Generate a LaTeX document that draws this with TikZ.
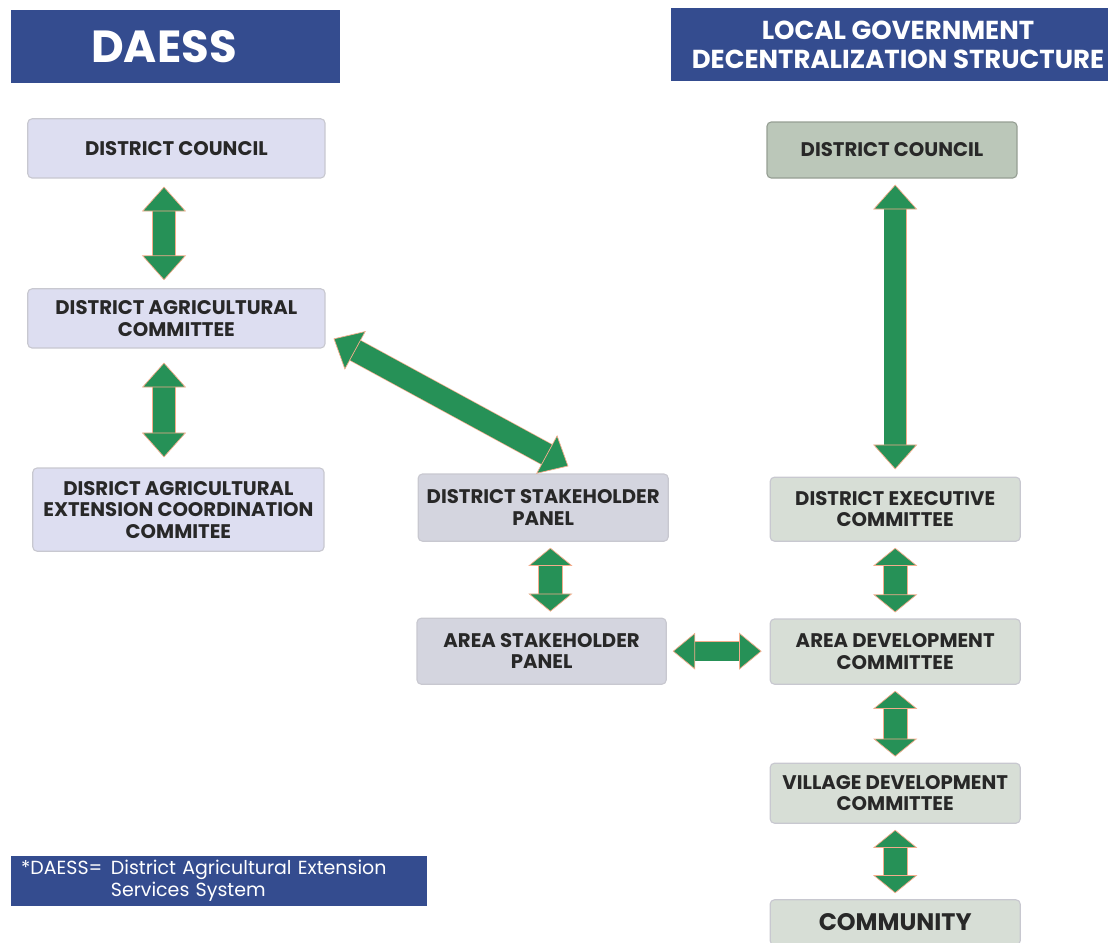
\documentclass[tikz,border=0pt]{standalone}
\usepackage{fontspec}
\setmainfont{Poppins}
\usetikzlibrary{arrows.meta}
\definecolor{hdblue}{RGB}{52,76,143}
\definecolor{daess}{RGB}{221,222,241}
\definecolor{panel}{RGB}{212,213,223}
\definecolor{lgdark}{RGB}{187,199,185}
\definecolor{lglight}{RGB}{215,222,214}
\definecolor{boxline}{RGB}{200,200,208}
\definecolor{txt}{RGB}{40,40,40}
\definecolor{argreen}{RGB}{38,145,87}
\definecolor{arline}{RGB}{243,172,140}
\tikzset{
  hd/.style={rectangle, fill=hdblue, text=white, align=center, inner sep=0pt},
  box/.style={rectangle, rounded corners=3pt, draw=boxline, line width=0.8pt,
              align=center, text=txt, inner sep=2pt,
              font=\fontsize{14}{15.3}\selectfont\bfseries},
  boxa/.style={box, fill=daess},
  boxm/.style={box, fill=panel},
  boxr/.style={box, fill=lglight},
  bigtri/.tip={Triangle[length=0.62cm, width=1.1cm, fill=argreen, line width=0.5pt]},
  midtri/.tip={Triangle[length=0.45cm, width=1.1cm, fill=argreen, line width=0.5pt]},
  smltri/.tip={Triangle[length=0.56cm, width=0.92cm, fill=argreen, line width=0.5pt]},
  ar/.style={bigtri-bigtri, draw=arline, line width=0.5pt, double=argreen,
             double distance=0.55cm, shorten <=0.15cm, shorten >=0.15cm},
  arb/.style={ar, midtri-midtri, double distance=0.58cm},
  ars/.style={ar, smltri-smltri, double distance=0.47cm},
}

\begin{document}
\begin{tikzpicture}[x=1cm,y=1cm]
\useasboundingbox (0,0) rectangle (27.70,-23.575);

% ===================== headers =====================
\node[hd, minimum width=8.23cm, minimum height=1.83cm,
      font=\fontsize{32}{32}\selectfont\bfseries] (HA) at (4.39,-1.16)
  {\hspace*{-0.58cm}DAESS};
\node[hd, minimum width=11.35cm, minimum height=1.83cm,
      font=\fontsize{18.5}{20}\selectfont\bfseries] (HB) at (22.45,-1.12)
  {LOCAL GOVERNMENT\\DECENTRALIZATION STRUCTURE};

% ===================== DAESS column =====================
\node[boxa, minimum width=7.43cm, minimum height=1.48cm] (DCA) at (4.41,-3.71)
  {DISTRICT COUNCIL};
\node[boxa, minimum width=7.43cm, minimum height=1.48cm] (DAC) at (4.41,-7.96)
  {DISTRICT AGRICULTURAL\\COMMITTEE};
\node[boxa, minimum width=7.28cm, minimum height=2.08cm] (DAECC) at (4.46,-12.74)
  {DISRICT AGRICULTURAL\\EXTENSION COORDINATION\\COMMITEE};

% ===================== stakeholder panels =====================
\node[boxm, minimum width=6.25cm, minimum height=1.68cm] (DSP) at (13.58,-12.69)
  {DISTRICT STAKEHOLDER\\PANEL};
\node[boxm, minimum width=6.23cm, minimum height=1.65cm] (ASP) at (13.54,-16.28)
  {AREA STAKEHOLDER\\PANEL};

% ===================== local government column =====================
\node[boxr, fill=lgdark, draw=lgdark!80!black, minimum width=6.25cm,
      minimum height=1.40cm] (DCB) at (22.30,-3.75) {DISTRICT COUNCIL};
\node[boxr, minimum width=6.25cm, minimum height=1.60cm] (DEC) at (22.38,-12.73)
  {DISTRICT EXECUTIVE\\COMMITTEE};
\node[boxr, minimum width=6.25cm, minimum height=1.63cm] (ADC) at (22.38,-16.29)
  {AREA DEVELOPMENT\\COMMITTEE};
\node[boxr, minimum width=6.25cm, minimum height=1.50cm] (VDC) at (22.38,-19.83)
  {VILLAGE DEVELOPMENT\\COMMITTEE};
\node[boxr, minimum width=6.25cm, minimum height=1.13cm,
      font=\fontsize{17}{17}\selectfont\bfseries] (COM) at (22.38,-23.06) {COMMUNITY};

% ===================== footnote =====================
\node[hd, minimum width=10.40cm, minimum height=1.25cm, text width=9.90cm,
      align=left, font=\fontsize{13.5}{15.2}\selectfont] (FN) at (5.48,-22.03)
  {\begin{tabular}{@{}l@{}l@{}}*DAESS=\hspace{0.45em} & District Agricultural Extension\\
                                                     & Services System\end{tabular}};

% ===================== arrows =====================
\draw[ar, shorten <=0.2cm, shorten >=0.2cm]
  ([xshift=-0.31cm]DCA.south) -- ([xshift=-0.31cm]DAC.north);
\draw[ar, shorten <=0.35cm, shorten >=0.25cm]
  ([xshift=-0.31cm]DAC.south) -- ([xshift=-0.31cm]DAC.south |- DAECC.north);
\draw[ar, shorten <=0pt, shorten >=0pt]
  ([xshift=0.2cm,yshift=0.25cm]DAC.south east) -- ([xshift=0.63cm,yshift=0.18cm]DSP.north);
\draw[arb] ([xshift=0.18cm]DSP.south) -- ([xshift=0.18cm]DSP.south |- ASP.north);
\draw[ars, shorten >=0.2cm] (ASP.east) -- (ASP.east -| ADC.west);

\draw[ar, shorten >=0.18cm] (DEC.north |- DCB.south) -- (DEC.north);
\draw[arb] (DEC.south) -- (ADC.north);
\draw[arb] (ADC.south) -- (VDC.north);
\draw[arb] (VDC.south) -- (COM.north);

\end{tikzpicture}
\end{document}
